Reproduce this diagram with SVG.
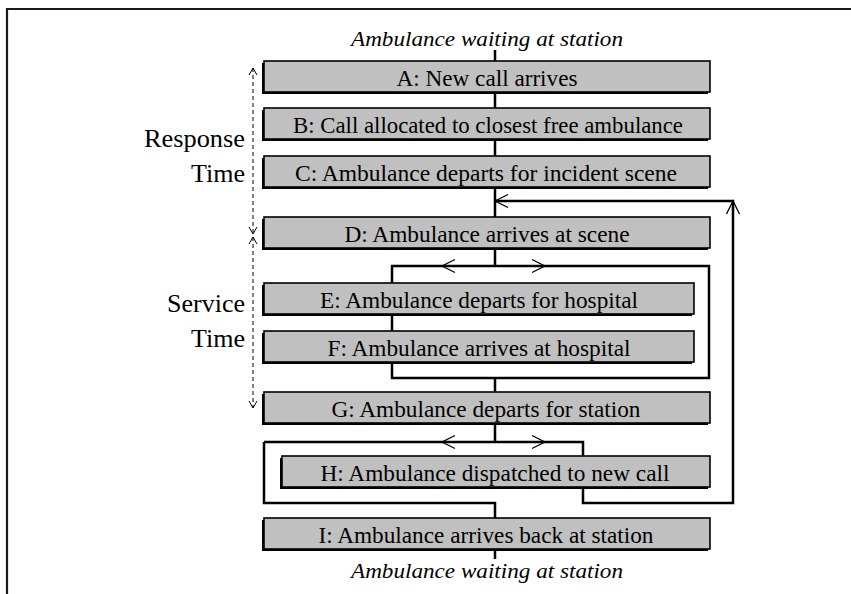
<svg xmlns="http://www.w3.org/2000/svg" width="851" height="594" viewBox="0 0 851 594">
<style>
.bg{fill:#fff}
.frame{fill:none;stroke:#1a1a1a;stroke-width:2.2}
.shadow{fill:#000}
.box{fill:#c0c0c0;stroke:#000;stroke-width:1.6}
text{font-family:'Liberation Serif','Times New Roman',Times,serif;fill:#000}
.lbl{font-size:22.5px;text-anchor:middle}
.it{font-size:22px;font-style:italic;text-anchor:middle}
.side{font-size:25.5px;text-anchor:end}
.ln{fill:none;stroke:#000;stroke-width:2.5}
.ah{fill:none;stroke:#000;stroke-width:1.3}
.dash{fill:none;stroke:#000;stroke-width:1;stroke-dasharray:4 3}
.dh{fill:none;stroke:#000;stroke-width:1}
</style>
<defs>
<path id="chev" d="M13,-6.5 L0,0 L13,6.5" class="ah"/>
<path id="dchev" d="M7,-4 L0,0 L7,4" class="dh"/>
</defs>
<rect class="bg" x="0" y="0" width="851" height="594"/>
<path class="frame" d="M7,594 V9 H851"/>

<g id="station-top">
<text class="it" x="487" y="46" textLength="272" lengthAdjust="spacingAndGlyphs">Ambulance waiting at station</text>
</g>
<g id="station-bottom">
<text class="it" x="487" y="578" textLength="272" lengthAdjust="spacingAndGlyphs">Ambulance waiting at station</text>
</g>

<g id="connectors">
<path class="ln" d="M495,50 V61 M495,92 V108 M495,140 V156 M495,187 V217"/>
<path class="ln" d="M583,487 V503 H733 V201 H495"/>
<path class="ln" d="M495,248 V266 M392,283 V266 H709 V378 H392 V362 M392,315 V331 M495,378 V392"/>
<path class="ln" d="M495,423 V442 M264,442 H583 V456 M264,442 V503 H495 V518 M495,550 V559"/>
<use href="#chev" transform="translate(495,201)"/>
<use href="#chev" transform="translate(733,201) rotate(90)"/>
<use href="#chev" transform="translate(442,266)"/>
<use href="#chev" transform="translate(545,266) rotate(180)"/>
<use href="#chev" transform="translate(442,442)"/>
<use href="#chev" transform="translate(545,442) rotate(180)"/>
<path class="dash" d="M253,68 V234 M253,237 V408"/>
<use href="#dchev" transform="translate(253,68) rotate(90)"/>
<use href="#dchev" transform="translate(253,234) rotate(-90)"/>
<use href="#dchev" transform="translate(253,237) rotate(90)"/>
<use href="#dchev" transform="translate(253,408) rotate(-90)"/>
</g>

<g id="response-time">
<text class="side" x="245" y="147" textLength="101" lengthAdjust="spacingAndGlyphs">Response</text>
<text class="side" x="245" y="182" textLength="54" lengthAdjust="spacingAndGlyphs">Time</text>
</g>
<g id="service-time">
<text class="side" x="245" y="312" textLength="78" lengthAdjust="spacingAndGlyphs">Service</text>
<text class="side" x="245" y="347" textLength="54" lengthAdjust="spacingAndGlyphs">Time</text>
</g>

<g id="nodeA">
<rect class="shadow" x="262" y="63" width="446" height="31"/>
<rect class="box" x="264" y="61" width="446" height="31"/>
<text class="lbl" x="487" y="86" textLength="181" lengthAdjust="spacingAndGlyphs">A: New call arrives</text>
</g>
<g id="nodeB">
<rect class="shadow" x="262" y="110" width="446" height="31"/>
<rect class="box" x="264" y="108" width="446" height="31"/>
<text class="lbl" x="488" y="133" textLength="390" lengthAdjust="spacingAndGlyphs">B: Call allocated to closest free ambulance</text>
</g>
<g id="nodeC">
<rect class="shadow" x="262" y="158" width="446" height="31"/>
<rect class="box" x="264" y="156" width="446" height="31"/>
<text class="lbl" x="486" y="181" textLength="382" lengthAdjust="spacingAndGlyphs">C: Ambulance departs for incident scene</text>
</g>
<g id="nodeD">
<rect class="shadow" x="262" y="219" width="446" height="31"/>
<rect class="box" x="264" y="217" width="446" height="31"/>
<text class="lbl" x="487" y="242" textLength="285" lengthAdjust="spacingAndGlyphs">D: Ambulance arrives at scene</text>
</g>
<g id="nodeE">
<rect class="shadow" x="262" y="285" width="430" height="31"/>
<rect class="box" x="264" y="283" width="430" height="31"/>
<text class="lbl" x="479" y="308" textLength="318" lengthAdjust="spacingAndGlyphs">E: Ambulance departs for hospital</text>
</g>
<g id="nodeF">
<rect class="shadow" x="262" y="333" width="430" height="31"/>
<rect class="box" x="264" y="331" width="430" height="31"/>
<text class="lbl" x="479" y="356" textLength="303" lengthAdjust="spacingAndGlyphs">F: Ambulance arrives at hospital</text>
</g>
<g id="nodeG">
<rect class="shadow" x="262" y="394" width="446" height="31"/>
<rect class="box" x="264" y="392" width="446" height="31"/>
<text class="lbl" x="486" y="417" textLength="309" lengthAdjust="spacingAndGlyphs">G: Ambulance departs for station</text>
</g>
<g id="nodeH">
<rect class="shadow" x="280" y="458" width="428" height="31"/>
<rect class="box" x="282" y="456" width="428" height="31"/>
<text class="lbl" x="495" y="481" textLength="349" lengthAdjust="spacingAndGlyphs">H: Ambulance dispatched to new call</text>
</g>
<g id="nodeI">
<rect class="shadow" x="262" y="520" width="446" height="31"/>
<rect class="box" x="264" y="518" width="446" height="31"/>
<text class="lbl" x="486" y="543" textLength="335" lengthAdjust="spacingAndGlyphs">I: Ambulance arrives back at station</text>
</g>
</svg>
